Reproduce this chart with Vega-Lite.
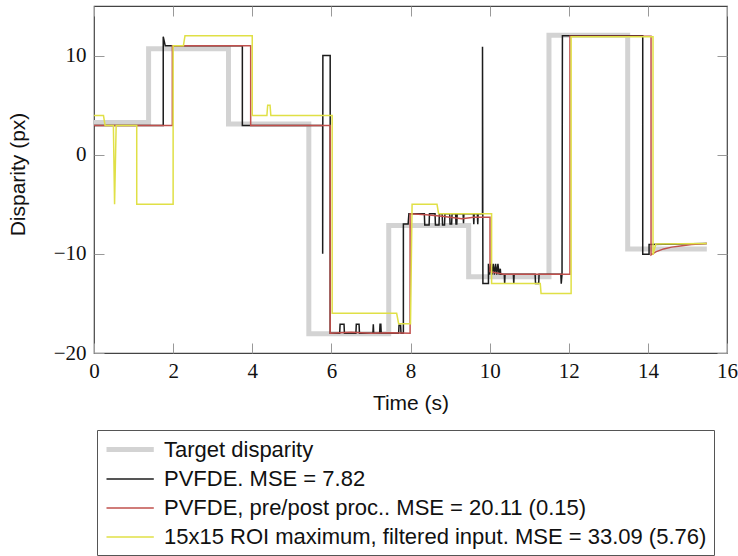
{
  "$schema": "https://vega.github.io/schema/vega-lite/v6.json",
  "autosize": "none",
  "width": 633,
  "height": 347,
  "padding": {"left": 94, "top": 6, "right": 11, "bottom": 203},
  "background": "white",
  "config": {"view": {"stroke": "#444", "strokeWidth": 1.2}, "font": "Liberation Sans"},
  "data": {"values": [
    {"s":"T","t":0,"v":3.25},{"s":"T","t":1.38,"v":3.25},{"s":"T","t":1.38,"v":10.7},{"s":"T","t":3.4,"v":10.7},{"s":"T","t":3.4,"v":3.1},{"s":"T","t":5.43,"v":3.1},{"s":"T","t":5.43,"v":-18.05},{"s":"T","t":7.45,"v":-18.05},{"s":"T","t":7.45,"v":-7.15},{"s":"T","t":9.47,"v":-7.15},{"s":"T","t":9.47,"v":-12.3},{"s":"T","t":11.5,"v":-12.3},{"s":"T","t":11.5,"v":12.05},{"s":"T","t":13.49,"v":12.05},{"s":"T","t":13.49,"v":-9.5},{"s":"T","t":15.49,"v":-9.5},

    {"s":"P","t":0,"v":2.95},{"s":"P","t":1.75,"v":2.95},{"s":"P","t":1.75,"v":11.9},{"s":"P","t":1.8,"v":11.0},{"s":"P","t":3.75,"v":11.0},{"s":"P","t":3.75,"v":2.95},{"s":"P","t":5.78,"v":2.95},{"s":"P","t":5.78,"v":-10},{"s":"P","t":5.785,"v":10},{"s":"P","t":5.97,"v":10},{"s":"P","t":5.97,"v":-18},
    {"s":"P","t":6.21,"v":-18},{"s":"P","t":6.22,"v":-17.1},{"s":"P","t":6.32,"v":-17.1},{"s":"P","t":6.33,"v":-18},{"s":"P","t":6.62,"v":-18},{"s":"P","t":6.63,"v":-17.1},{"s":"P","t":6.7,"v":-17.1},{"s":"P","t":6.71,"v":-18},{"s":"P","t":7.05,"v":-18},{"s":"P","t":7.06,"v":-17.1},{"s":"P","t":7.07,"v":-18},{"s":"P","t":7.22,"v":-18},{"s":"P","t":7.23,"v":-17.1},{"s":"P","t":7.25,"v":-17.1},{"s":"P","t":7.26,"v":-18},{"s":"P","t":7.7,"v":-18},{"s":"P","t":7.71,"v":-17.2},{"s":"P","t":7.75,"v":-17.2},{"s":"P","t":7.76,"v":-18},{"s":"P","t":7.82,"v":-18},{"s":"P","t":7.82,"v":-7},{"s":"P","t":7.94,"v":-7},{"s":"P","t":7.96,"v":-5.95},
    {"s":"P","t":8.35,"v":-5.95},{"s":"P","t":8.36,"v":-7.1},{"s":"P","t":8.47,"v":-7.1},{"s":"P","t":8.48,"v":-5.95},{"s":"P","t":8.62,"v":-5.95},{"s":"P","t":8.63,"v":-7.1},{"s":"P","t":8.72,"v":-7.1},{"s":"P","t":8.73,"v":-5.95},{"s":"P","t":8.8,"v":-5.95},{"s":"P","t":8.81,"v":-7.1},{"s":"P","t":8.86,"v":-7.1},{"s":"P","t":8.87,"v":-5.95},{"s":"P","t":8.99,"v":-5.95},{"s":"P","t":9.0,"v":-7.0},{"s":"P","t":9.04,"v":-7.0},{"s":"P","t":9.05,"v":-5.95},{"s":"P","t":9.14,"v":-5.95},{"s":"P","t":9.15,"v":-7.0},{"s":"P","t":9.17,"v":-7.0},{"s":"P","t":9.18,"v":-5.95},{"s":"P","t":9.33,"v":-5.95},{"s":"P","t":9.34,"v":-6.9},{"s":"P","t":9.35,"v":-5.95},{"s":"P","t":9.59,"v":-5.95},{"s":"P","t":9.6,"v":-7.0},{"s":"P","t":9.61,"v":-5.95},{"s":"P","t":9.69,"v":-5.95},{"s":"P","t":9.7,"v":-7.0},{"s":"P","t":9.71,"v":-5.95},{"s":"P","t":9.82,"v":-5.95},{"s":"P","t":9.82,"v":10.9},{"s":"P","t":9.83,"v":-13},{"s":"P","t":9.97,"v":-13},{"s":"P","t":9.97,"v":-11},{"s":"P","t":10.0,"v":-12.1},{"s":"P","t":10.03,"v":-11},{"s":"P","t":10.06,"v":-12.1},{"s":"P","t":10.09,"v":-11},{"s":"P","t":10.12,"v":-12.1},{"s":"P","t":10.15,"v":-11},{"s":"P","t":10.18,"v":-12.1},{"s":"P","t":10.21,"v":-11},{"s":"P","t":10.24,"v":-12.1},{"s":"P","t":10.27,"v":-11.5},{"s":"P","t":10.28,"v":-12.05},
    {"s":"P","t":10.37,"v":-12.05},{"s":"P","t":10.38,"v":-13},{"s":"P","t":10.39,"v":-12.05},{"s":"P","t":10.6,"v":-12.05},{"s":"P","t":10.61,"v":-13},{"s":"P","t":10.62,"v":-12.05},{"s":"P","t":11.15,"v":-12.05},{"s":"P","t":11.16,"v":-13},{"s":"P","t":11.24,"v":-13},{"s":"P","t":11.25,"v":-12.05},{"s":"P","t":11.8,"v":-12.05},{"s":"P","t":11.81,"v":-13},{"s":"P","t":11.83,"v":-12.05},{"s":"P","t":11.84,"v":12.0},{"s":"P","t":13.87,"v":12.0},{"s":"P","t":13.87,"v":-10.05},{"s":"P","t":14.03,"v":-10.05},{"s":"P","t":14.03,"v":-9.05},{"s":"P","t":15.49,"v":-8.95},

    {"s":"R","t":0,"v":2.95},{"s":"R","t":1.98,"v":2.95},{"s":"R","t":1.98,"v":11.0},{"s":"R","t":3.96,"v":11.0},{"s":"R","t":3.96,"v":2.95},{"s":"R","t":5.97,"v":2.95},{"s":"R","t":5.97,"v":-18.0},{"s":"R","t":6.5,"v":-17.9},{"s":"R","t":7.0,"v":-18.0},{"s":"R","t":7.5,"v":-17.95},{"s":"R","t":7.99,"v":-18.0},{"s":"R","t":7.99,"v":-5.95},{"s":"R","t":8.4,"v":-6.05},{"s":"R","t":8.8,"v":-6.2},{"s":"R","t":9.3,"v":-6.45},{"s":"R","t":9.6,"v":-6.3},{"s":"R","t":10.01,"v":-6.3},{"s":"R","t":10.01,"v":-11.8},{"s":"R","t":10.35,"v":-12.05},{"s":"R","t":12.03,"v":-12.05},{"s":"R","t":12.03,"v":11.95},{"s":"R","t":14.08,"v":11.95},{"s":"R","t":14.08,"v":-10.1},{"s":"R","t":14.2,"v":-9.8},{"s":"R","t":14.4,"v":-9.5},{"s":"R","t":14.6,"v":-9.32},{"s":"R","t":14.82,"v":-9.2},{"s":"R","t":15.1,"v":-9.05},{"s":"R","t":15.49,"v":-8.95},

    {"s":"Y","t":0,"v":3.95},{"s":"Y","t":0.24,"v":3.95},{"s":"Y","t":0.28,"v":2.95},{"s":"Y","t":0.49,"v":2.95},{"s":"Y","t":0.52,"v":-5.0},{"s":"Y","t":0.56,"v":2.95},{"s":"Y","t":1.08,"v":2.95},{"s":"Y","t":1.08,"v":-5.0},{"s":"Y","t":2.0,"v":-5.0},{"s":"Y","t":2.0,"v":11.0},{"s":"Y","t":2.26,"v":11.0},{"s":"Y","t":2.3,"v":12.0},{"s":"Y","t":4.0,"v":12.0},{"s":"Y","t":4.0,"v":3.95},{"s":"Y","t":4.37,"v":3.95},{"s":"Y","t":4.39,"v":5.0},{"s":"Y","t":4.45,"v":5.0},{"s":"Y","t":4.47,"v":3.95},{"s":"Y","t":6.02,"v":3.95},{"s":"Y","t":6.02,"v":-16.0},{"s":"Y","t":7.65,"v":-16.0},{"s":"Y","t":7.7,"v":-17.05},{"s":"Y","t":8.0,"v":-17.05},{"s":"Y","t":8.04,"v":-5.0},{"s":"Y","t":8.67,"v":-5.0},{"s":"Y","t":8.71,"v":-5.95},{"s":"Y","t":10.05,"v":-5.95},{"s":"Y","t":10.05,"v":-13.0},{"s":"Y","t":11.28,"v":-13.0},{"s":"Y","t":11.3,"v":-14.0},{"s":"Y","t":12.06,"v":-14.0},{"s":"Y","t":12.06,"v":11.9},{"s":"Y","t":14.13,"v":11.9},{"s":"Y","t":14.13,"v":-10.1},{"s":"Y","t":14.2,"v":-9.0},{"s":"Y","t":15.49,"v":-8.95}
  ]},
  "layer": [
    {
      "encoding": {
        "x": {"field": "t", "type": "quantitative", "scale": {"domain": [0, 16], "nice": false, "zero": false},
          "axis": {"values": [0,2,4,6,8,10,12,14,16], "format": "d", "title": "Time (s)", "titleFont": "Liberation Sans", "titleFontSize": 21, "titleFontWeight": "normal", "titleColor": "#111", "titleY": 50, "titleBaseline": "middle",
            "labelFont": "Liberation Serif, DejaVu Serif, serif", "labelFontSize": 21, "labelColor": "#111", "labelPadding": 17, "labelFlush": false, "labelOverlap": false, "tickSize": -10, "tickColor": "#999", "domain": false, "grid": false}},
        "y": {"field": "v", "type": "quantitative", "scale": {"domain": [-20, 15], "nice": false, "zero": false},
          "axis": {"values": [-20,-10,0,10], "format": "d", "title": "Disparity (px)", "titleFont": "Liberation Sans", "titleFontSize": 21, "titleFontWeight": "normal", "titleColor": "#111", "titleX": -76, "titleY": 168, "titleBaseline": "middle",
            "labelFont": "Liberation Serif, DejaVu Serif, serif", "labelFontSize": 21, "labelColor": "#111", "labelPadding": 18, "labelOverlap": false, "tickSize": -10, "tickColor": "#999", "domain": false, "grid": false}},
        "color": {"field": "s", "type": "nominal", "scale": {"domain": ["T","P","R","Y"], "range": ["#d3d3d3","#1c1c1c","#c0504d","#e0e046"]},
          "legend": {"orient": "none", "legendX": 3, "legendY": 424, "title": null, "strokeColor": "#555", "padding": 7, "rowPadding": 7, "labelFont": "Liberation Sans", "labelFontSize": 22, "labelColor": "#111", "symbolType": "M-1,0H3.73", "symbolSize": 400, "labelOffset": 35, "labelLimit": 0,
            "labelExpr": "datum.value==='T'?'Target disparity':datum.value==='P'?'PVFDE. MSE = 7.82':datum.value==='R'?'PVFDE, pre/post proc.. MSE = 20.11 (0.15)':'15x15 ROI maximum, filtered input. MSE = 33.09 (5.76)'"}},
        "strokeWidth": {"field": "s", "type": "nominal", "scale": {"type": "ordinal", "domain": ["T","P","R","Y"], "range": [5, 1.5, 1.5, 1.5]},
          "legend": {"orient": "none", "legendX": 3, "legendY": 424, "title": null, "strokeColor": "#555", "padding": 7, "rowPadding": 7, "labelFont": "Liberation Sans", "labelFontSize": 22, "labelColor": "#111", "symbolType": "M-1,0H3.73", "symbolSize": 400, "labelOffset": 35, "labelLimit": 0,
            "labelExpr": "datum.value==='T'?'Target disparity':datum.value==='P'?'PVFDE. MSE = 7.82':datum.value==='R'?'PVFDE, pre/post proc.. MSE = 20.11 (0.15)':'15x15 ROI maximum, filtered input. MSE = 33.09 (5.76)'"}},
        "order": {"value": null}
      },
      "layer": [
        {"transform": [{"filter": "datum.s === 'T'"}], "mark": {"type": "line", "strokeJoin": "miter", "strokeCap": "butt"}},
        {"transform": [{"filter": "datum.s === 'P'"}], "mark": {"type": "line", "strokeJoin": "miter", "strokeCap": "butt"}},
        {"transform": [{"filter": "datum.s === 'R'"}], "mark": {"type": "line", "strokeJoin": "miter", "strokeCap": "butt"}},
        {"transform": [{"filter": "datum.s === 'Y'"}], "mark": {"type": "line", "strokeJoin": "miter", "strokeCap": "butt"}}
      ]
    },
    {
      "mark": {"type": "point", "opacity": 0},
      "encoding": {
        "x": {"field": "t", "type": "quantitative", "scale": {"domain": [0, 16], "nice": false, "zero": false},
          "axis": {"orient": "top", "values": [0,2,4,6,8,10,12,14,16], "labels": false, "title": null, "tickSize": -10, "tickColor": "#999", "domain": false, "grid": false}},
        "y": {"field": "v", "type": "quantitative", "scale": {"domain": [-20, 15], "nice": false, "zero": false},
          "axis": {"orient": "right", "values": [-20,-10,0,10], "labels": false, "title": null, "tickSize": -10, "tickColor": "#999", "domain": false, "grid": false}}
      }
    }
  ],
  "resolve": {"axis": {"x": "independent", "y": "independent"}}
}
